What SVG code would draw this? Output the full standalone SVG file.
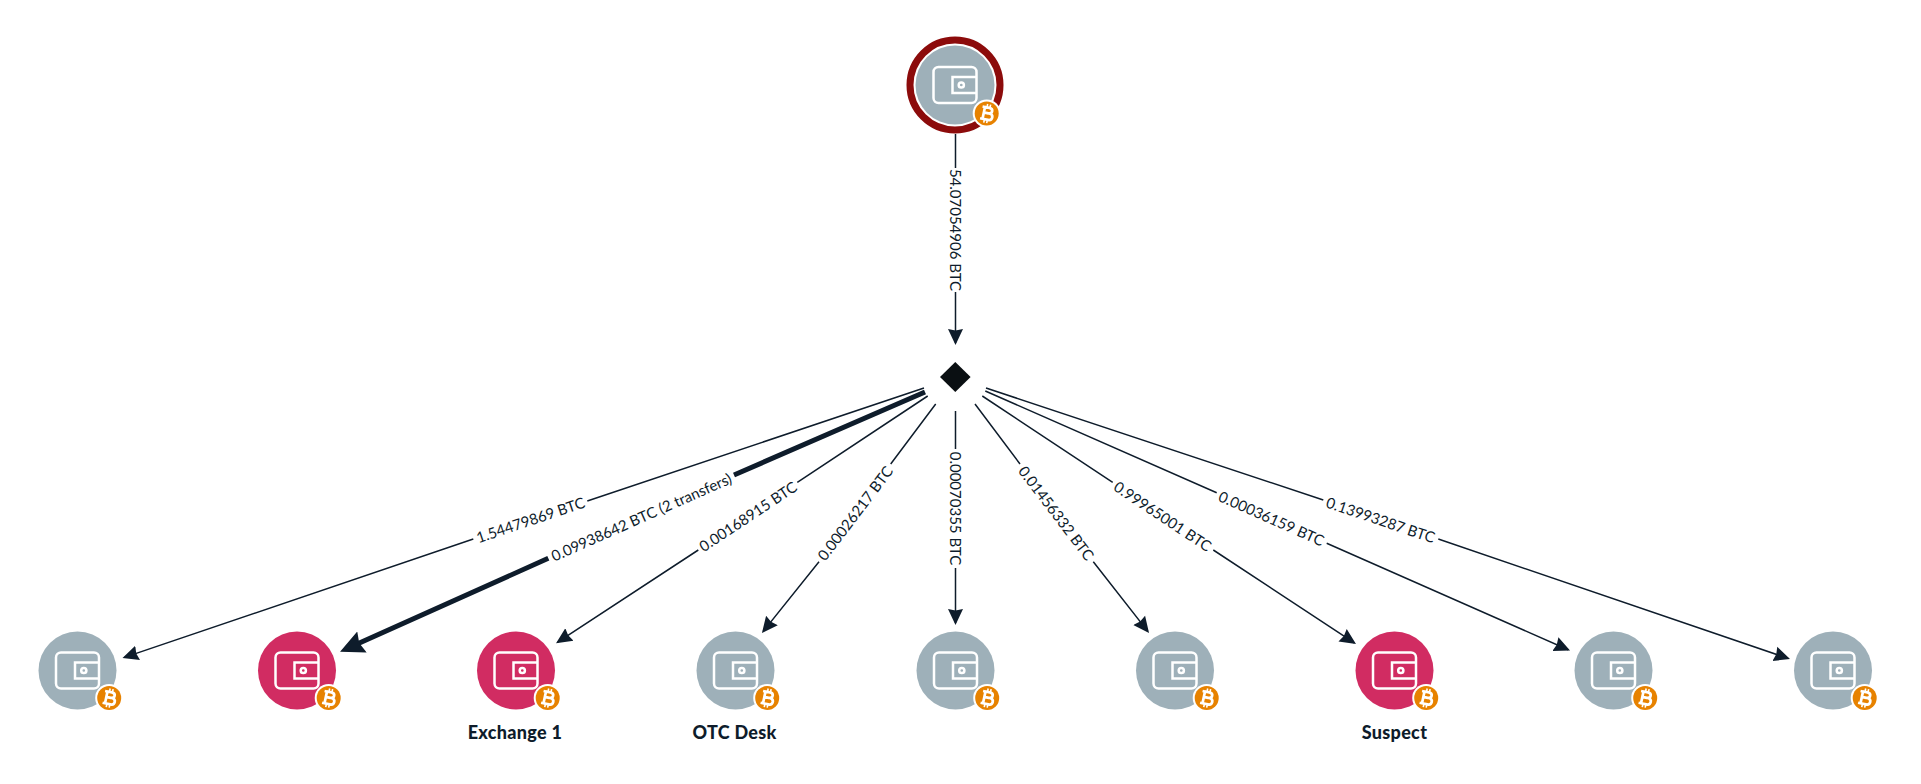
<svg xmlns="http://www.w3.org/2000/svg" width="1921" height="784" viewBox="0 0 1921 784">
<style>
.bg{fill:#fff}
.e{fill:none;stroke:#0e1c2b;stroke-width:1.5}
.t{stroke-width:5}
.l{font:15px Lato,"Noto Sans",sans-serif;fill:#0e1c2b;text-anchor:middle;dominant-baseline:central}
.n{font:900 18px Lato,"Noto Sans",sans-serif;fill:#0e1c2b;text-anchor:middle;letter-spacing:.3px}
.grey{fill:#9eb0b9}.pink{fill:#d12c62}
.w{fill:none;stroke:#fff;stroke-width:2.5}
.b{fill:none;stroke:#fff;stroke-width:2.7}
</style>
<defs>
<marker id="a" markerUnits="userSpaceOnUse" markerWidth="20" markerHeight="20" refX="14" refY="9" orient="auto"><path d="M0 1.5L16 9L0 16.5L1.5 9Z" fill="#0e1c2b"/></marker>
<marker id="A" markerUnits="userSpaceOnUse" markerWidth="30" markerHeight="28" refX="12" refY="14" orient="auto"><path d="M0 2.5L24 14L0 25.5L3 14Z" fill="#0e1c2b"/></marker>
<g id="wallet">
<rect class="w" x="-21.5" y="-18" width="43" height="36" rx="5"/>
<path class="w" d="M21.5-8H-2.5V8H21.5"/>
<circle class="w" cx="6.3" cy="0" r="2.6"/>
</g>
<g id="badge">
<circle r="14" fill="#fff"/><circle r="12" fill="#e78200"/>
<g transform="rotate(12)"><path class="b" d="M-3-6H1.5C6-6 6-.5 1.5-.5H-3M-3-.5H2.5C7.5-.5 7.5 6 2.5 6H-3M-3-7V7M-5.5-6H-2M-5.5 6H-2"/><path d="M-1-9.5V-6M2-9.5V-6M-1 6V9.5M2 6V9.5" fill="none" stroke="#fff" stroke-width="1.6"/></g>
</g>
</defs>
<rect class="bg" width="1921" height="784"/>
<g id="connectors">
<path class="e" d="M955.5 134V168M955.5 292V343" marker-end="url(#a)"/>
<text class="l" transform="translate(955.5 230) rotate(90)">54.07054906 BTC</text>
<path class="e" d="M924 388L587.3 501M473.3 539L124.4 657.4" marker-end="url(#a)"/>
<text class="l" transform="translate(530.3 519.5) rotate(-18.6)">1.54479869 BTC</text>
<path class="e t" d="M925 392L734 475M548.3 558.3L351 646.8" marker-end="url(#A)"/>
<text class="l" transform="translate(641.2 516.7) rotate(-23.9)">0.09938642 BTC (2 transfers)</text>
<path class="e" d="M927.7 396L797.3 482.3M698.3 550L557.7 642.2" marker-end="url(#a)"/>
<text class="l" transform="translate(747.8 516) rotate(-33.6)">0.00168915 BTC</text>
<path class="e" d="M935.7 404L890.7 464M819 561.7L763.2 631.4" marker-end="url(#a)"/>
<text class="l" transform="translate(854.8 512.9) rotate(-52.8)">0.00026217 BTC</text>
<path class="e" d="M955.5 411V449M955.5 568V623" marker-end="url(#a)"/>
<text class="l" transform="translate(955.5 508.5) rotate(90)">0.00070355 BTC</text>
<path class="e" d="M975 404L1020 464M1093.3 561.7L1147.8 631.4" marker-end="url(#a)"/>
<text class="l" transform="translate(1056.7 512.8) rotate(52.8)">0.01456332 BTC</text>
<path class="e" d="M982.3 396L1112.7 482.3M1213.3 550L1354.3 642.9" marker-end="url(#a)"/>
<text class="l" transform="translate(1163 516) rotate(33.6)">0.99965001 BTC</text>
<path class="e" d="M985.3 391L1216.7 492.7M1326.7 543.3L1568.2 649.7" marker-end="url(#a)"/>
<text class="l" transform="translate(1271.7 518) rotate(23.9)">0.00036159 BTC</text>
<path class="e" d="M986 388L1323.3 500M1438.3 539L1788.1 658.4" marker-end="url(#a)"/>
<text class="l" transform="translate(1380.8 519.5) rotate(18.6)">0.13993287 BTC</text>
</g>
<g id="source" transform="translate(955 85)"><circle r="45" fill="#fff" stroke="#8c0b0b" stroke-width="7"/><circle class="grey" r="39.5"/><use href="#wallet"/><use href="#badge" x="31.7" y="28.5"/></g>
<g id="hub"><path d="M955.3 362L970.6 377L955.3 392L940 377Z" fill="#0a0f12"/></g>
<g id="w1" transform="translate(77.5 670.5)"><circle class="grey" r="39"/><use href="#wallet"/><use href="#badge" x="31.7" y="27.5"/></g>
<g id="w2" transform="translate(297 670.5)"><circle class="pink" r="39"/><use href="#wallet"/><use href="#badge" x="31.7" y="27.5"/></g>
<g id="w3" transform="translate(516 670.5)"><circle class="pink" r="39"/><use href="#wallet"/><use href="#badge" x="31.7" y="27.5"/><text class="n" x="-1" y="68">Exchange 1</text></g>
<g id="w4" transform="translate(735.5 670.5)"><circle class="grey" r="39"/><use href="#wallet"/><use href="#badge" x="31.7" y="27.5"/><text class="n" x="-1" y="68">OTC Desk</text></g>
<g id="w5" transform="translate(955.5 670.5)"><circle class="grey" r="39"/><use href="#wallet"/><use href="#badge" x="31.7" y="27.5"/></g>
<g id="w6" transform="translate(1175 670.5)"><circle class="grey" r="39"/><use href="#wallet"/><use href="#badge" x="31.7" y="27.5"/></g>
<g id="w7" transform="translate(1394.5 670.5)"><circle class="pink" r="39"/><use href="#wallet"/><use href="#badge" x="31.7" y="27.5"/><text class="n" x="0" y="68">Suspect</text></g>
<g id="w8" transform="translate(1613.5 670.5)"><circle class="grey" r="39"/><use href="#wallet"/><use href="#badge" x="31.7" y="27.5"/></g>
<g id="w9" transform="translate(1833 670.5)"><circle class="grey" r="39"/><use href="#wallet"/><use href="#badge" x="31.7" y="27.5"/></g>
</svg>
